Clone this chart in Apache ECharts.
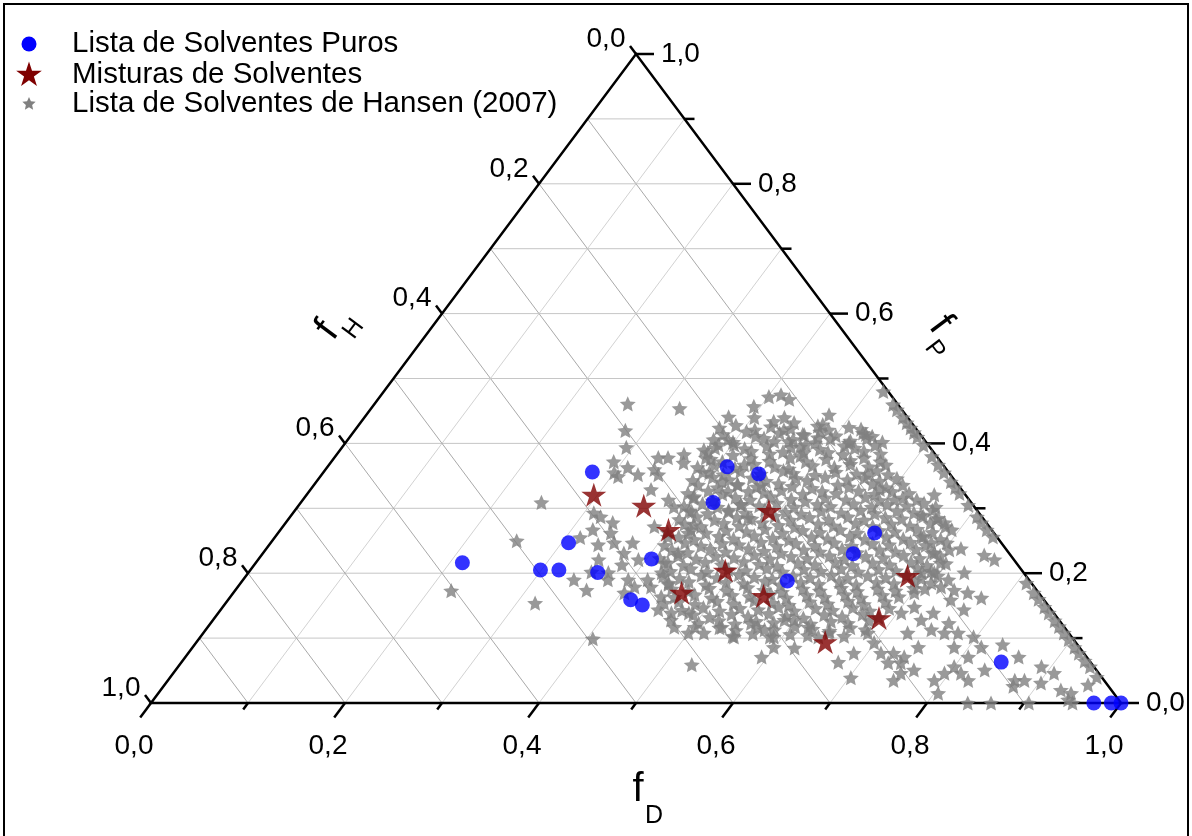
<!DOCTYPE html>
<html>
<head>
<meta charset="utf-8">
<script src="https://cdn.jsdelivr.net/npm/echarts@6/dist/echarts.min.js"></script>
<style>
  html, body { margin: 0; padding: 0; background: #fff; }
  #chart { width: 1192px; height: 836px; }
</style>
</head>
<body>
<div id="chart"></div>
<script>
// ternary points as [fD, fP]; fH = 1 - fD - fP
const puros = [
  [0.213, 0.216], [0.299, 0.205], [0.318, 0.205], [0.307, 0.247], [0.277, 0.356],
  [0.360, 0.201], [0.415, 0.159], [0.431, 0.151], [0.405, 0.222], [0.425, 0.309],
  [0.412, 0.364], [0.450, 0.353], [0.562, 0.188], [0.609, 0.230], [0.615, 0.262],
  [0.845, 0.063], [0.972, 0.0], [0.990, 0.0], [1.0, 0.0]
];

const misturas = [
  [0.296, 0.321], [0.356, 0.304], [0.400, 0.267], [0.489, 0.296], [0.490, 0.204],
  [0.462, 0.170], [0.549, 0.165], [0.682, 0.196], [0.685, 0.131], [0.648, 0.094]
];

const hansen = [
  // outer / scattered points
  [0.223, 0.173], [0.252, 0.250], [0.248, 0.309], [0.319, 0.154], [0.406, 0.099],
  [0.528, 0.059], [0.594, 0.071], [0.621, 0.085], [0.261, 0.461], [0.318, 0.454],
  [0.279, 0.420], [0.293, 0.394], [0.362, 0.174], [0.341, 0.190], [0.315, 0.255],
  [0.310, 0.293], [0.320, 0.287], [0.322, 0.267], [0.337, 0.278], [0.343, 0.262],
  [0.339, 0.244], [0.351, 0.221], [0.291, 0.372], [0.307, 0.349], [0.310, 0.363],
  [0.326, 0.352], [0.339, 0.360], [0.347, 0.352], [0.344, 0.378], [0.358, 0.383],
  [0.364, 0.370], [0.351, 0.329], [0.371, 0.201], [0.379, 0.213], [0.397, 0.190],
  [0.409, 0.179], [0.403, 0.170], [0.388, 0.302], [0.377, 0.313], [0.401, 0.318],
  [0.410, 0.295], [0.375, 0.390], [0.383, 0.378], [0.386, 0.398], [0.392, 0.406],
  [0.375, 0.441], [0.393, 0.457], [0.401, 0.472], [0.412, 0.475],
  [0.424, 0.468], [0.402, 0.440], [0.425, 0.434], [0.447, 0.432],
  [0.456, 0.403], [0.480, 0.386], [0.405, 0.256], [0.383, 0.272], [0.423, 0.262],
  [0.481, 0.117], [0.500, 0.108], [0.516, 0.108], [0.530, 0.117], [0.550, 0.102],
  [0.557, 0.123], [0.451, 0.144], [0.452, 0.154], [0.467, 0.139], [0.334, 0.378],
  [0.300, 0.355], [0.398, 0.355], [0.418, 0.341],
  [0.432, 0.326], [0.437, 0.336], [0.428, 0.367],
  [0.448, 0.295], [0.455, 0.306], [0.473, 0.285],
  [0.461, 0.336], [0.422, 0.275],
  [0.477, 0.444], [0.478, 0.429], [0.433, 0.440], [0.530, 0.414],
  [0.519, 0.401], [0.483, 0.409], [0.465, 0.414],
  [0.563, 0.352], [0.587, 0.329],
  [0.647, 0.321], [0.658, 0.302], [0.610, 0.313],
  [0.649, 0.290], [0.669, 0.285], [0.679, 0.278],
  [0.442, 0.421], [0.472, 0.395],
  [0.666, 0.256], [0.681, 0.247], [0.692, 0.231],
  [0.706, 0.216], [0.707, 0.201], [0.694, 0.201], [0.712, 0.185], [0.727, 0.190],
  [0.738, 0.201], [0.741, 0.174], [0.757, 0.170], [0.775, 0.162], [0.745, 0.228],
  [0.759, 0.221], [0.713, 0.148], [0.704, 0.139], [0.730, 0.128], [0.748, 0.113],
  [0.761, 0.123], [0.778, 0.108], [0.797, 0.102], [0.813, 0.086], [0.807, 0.071],
  [0.800, 0.056], [0.795, 0.046], [0.790, 0.035], [0.804, 0.015], [0.812, 0.046],
  [0.825, 0.035], [0.834, 0.051], [0.859, 0.071], [0.873, 0.035], [0.883, 0.035],
  [0.890, 0.056], [0.908, 0.046], [0.902, 0.031], [0.833, 0.090], [0.727, 0.077],
  [0.742, 0.062], [0.729, 0.062], [0.750, 0.046], [0.748, 0.035], [0.748, 0.086],
  [0.726, 0.108], [0.699, 0.093], [0.714, 0.077], [0.686, 0.077], [0.677, 0.063],
  [0.702, 0.039], [0.589, 0.128], [0.619, 0.117], [0.637, 0.102],
  [0.685, 0.108], [0.702, 0.170], [0.928, 0.020], [0.941, 0.015], [0.952, 0.028],
  [0.943, 0.005], [0.842, 0.0], [0.866, 0.0], [0.876, 0.026], [0.950, 0.0],
  [0.905, 0.0], [0.354, 0.247], [0.373, 0.247], [0.372, 0.231], [0.392, 0.221],
  [0.376, 0.190], [0.353, 0.202], [0.417, 0.190], [0.426, 0.201], [0.426, 0.179],
  [0.444, 0.164], [0.441, 0.185], [0.472, 0.128], [0.485, 0.139], [0.502, 0.117],
  [0.421, 0.216], [0.428, 0.231],
  [0.576, 0.113], [0.591, 0.102],
  [0.741, 0.071], [0.761, 0.051], [0.737, 0.139], [0.764, 0.108],
  [0.766, 0.144], [0.745, 0.159], [0.725, 0.179], [0.713, 0.196],
  [0.710, 0.176], [0.712, 0.215], [0.716, 0.238],
  [0.785, 0.086], [0.599, 0.086],
  // solvents lying on the fH = 0 side
  [0.515, 0.480], [0.535, 0.460], [0.543, 0.452], [0.555, 0.440], [0.563, 0.432],
  [0.571, 0.424], [0.578, 0.417], [0.585, 0.410], [0.598, 0.397], [0.615, 0.380],
  [0.628, 0.367], [0.640, 0.355], [0.654, 0.341], [0.663, 0.332], [0.672, 0.323],
  [0.690, 0.305], [0.708, 0.287], [0.717, 0.278], [0.728, 0.267], [0.740, 0.256],
  [0.810, 0.185], [0.825, 0.170], [0.835, 0.160], [0.847, 0.148], [0.856, 0.139],
  [0.868, 0.127], [0.877, 0.118], [0.887, 0.108], [0.897, 0.098], [0.909, 0.086],
  [0.918, 0.077], [0.930, 0.065], [0.940, 0.056], [0.955, 0.040],
  // dense core
  [0.374, 0.424], [0.389, 0.428], [0.412, 0.421], [0.426, 0.426], [0.448, 0.423], [0.474, 0.427], [0.488, 0.421], [0.507, 0.425], [0.521, 0.422],
  [0.383, 0.414], [0.405, 0.418], [0.418, 0.411], [0.440, 0.416], [0.467, 0.413], [0.481, 0.418], [0.500, 0.412], [0.526, 0.416], [0.538, 0.411],
  [0.377, 0.406], [0.399, 0.402], [0.428, 0.408], [0.441, 0.403], [0.459, 0.406], [0.484, 0.401], [0.497, 0.407], [0.519, 0.404], [0.534, 0.408], [0.553, 0.402],
  [0.385, 0.393], [0.402, 0.398], [0.416, 0.392], [0.437, 0.396], [0.463, 0.394], [0.476, 0.398], [0.494, 0.391], [0.517, 0.396], [0.529, 0.393], [0.548, 0.397],
  [0.381, 0.386], [0.409, 0.382], [0.425, 0.388], [0.446, 0.384], [0.458, 0.387], [0.479, 0.381], [0.505, 0.386], [0.522, 0.383], [0.541, 0.388], [0.560, 0.384],
  [0.389, 0.376], [0.403, 0.372], [0.430, 0.377], [0.451, 0.373], [0.470, 0.378], [0.489, 0.372], [0.508, 0.376], [0.534, 0.374], [0.546, 0.378], [0.566, 0.372],
  [0.382, 0.363], [0.397, 0.367], [0.421, 0.362], [0.438, 0.368], [0.461, 0.364], [0.477, 0.361], [0.499, 0.366], [0.523, 0.363], [0.537, 0.368], [0.558, 0.364], [0.574, 0.367],
  [0.391, 0.356], [0.414, 0.352], [0.429, 0.357], [0.452, 0.353], [0.473, 0.358], [0.485, 0.354], [0.509, 0.351], [0.528, 0.356], [0.551, 0.353], [0.569, 0.358], [0.584, 0.352],
  [0.387, 0.343], [0.405, 0.348], [0.424, 0.344], [0.446, 0.347], [0.463, 0.342], [0.492, 0.346], [0.505, 0.343], [0.521, 0.348], [0.546, 0.344], [0.562, 0.347], [0.580, 0.342], [0.596, 0.346],
  [0.396, 0.336], [0.418, 0.332], [0.436, 0.337], [0.458, 0.333], [0.478, 0.338], [0.494, 0.334], [0.516, 0.331], [0.540, 0.336], [0.553, 0.333], [0.575, 0.338], [0.592, 0.332], [0.607, 0.336],
  [0.392, 0.323], [0.411, 0.327], [0.428, 0.322], [0.453, 0.326], [0.470, 0.324], [0.486, 0.328], [0.511, 0.322], [0.529, 0.326], [0.545, 0.323], [0.566, 0.327], [0.585, 0.322], [0.601, 0.326], [0.620, 0.323],
  [0.401, 0.316], [0.423, 0.312], [0.444, 0.317], [0.461, 0.313], [0.480, 0.318], [0.503, 0.314], [0.519, 0.311], [0.537, 0.316], [0.560, 0.313], [0.578, 0.317], [0.595, 0.312], [0.617, 0.316], [0.633, 0.313],
  [0.398, 0.303], [0.415, 0.307], [0.433, 0.302], [0.455, 0.306], [0.475, 0.304], [0.491, 0.308], [0.512, 0.302], [0.534, 0.306], [0.549, 0.303], [0.571, 0.307], [0.592, 0.302], [0.606, 0.306], [0.627, 0.304], [0.643, 0.308],
  [0.407, 0.296], [0.428, 0.292], [0.447, 0.297], [0.466, 0.293], [0.484, 0.298], [0.507, 0.294], [0.525, 0.291], [0.543, 0.296], [0.565, 0.293], [0.583, 0.297], [0.600, 0.292], [0.621, 0.296], [0.640, 0.293], [0.657, 0.297],
  [0.403, 0.283], [0.419, 0.287], [0.440, 0.282], [0.461, 0.286], [0.477, 0.284], [0.499, 0.288], [0.518, 0.282], [0.536, 0.286], [0.557, 0.283], [0.575, 0.287], [0.594, 0.282], [0.614, 0.286], [0.632, 0.284], [0.652, 0.288], [0.668, 0.283],
  [0.412, 0.276], [0.431, 0.272], [0.452, 0.277], [0.470, 0.273], [0.491, 0.278], [0.510, 0.274], [0.528, 0.271], [0.550, 0.276], [0.567, 0.273], [0.588, 0.277], [0.608, 0.272], [0.625, 0.276], [0.646, 0.273], [0.665, 0.277], [0.683, 0.272],
  [0.401, 0.263], [0.423, 0.267], [0.441, 0.262], [0.460, 0.266], [0.482, 0.264], [0.499, 0.268], [0.520, 0.262], [0.539, 0.266], [0.558, 0.263], [0.577, 0.267], [0.597, 0.262], [0.618, 0.266], [0.635, 0.264], [0.656, 0.268], [0.674, 0.263], [0.692, 0.267],
  [0.416, 0.256], [0.434, 0.252], [0.457, 0.257], [0.474, 0.253], [0.493, 0.258], [0.514, 0.254], [0.532, 0.251], [0.553, 0.256], [0.571, 0.253], [0.592, 0.257], [0.610, 0.252], [0.630, 0.256], [0.649, 0.253], [0.668, 0.257], [0.688, 0.252],
  [0.408, 0.243], [0.427, 0.247], [0.446, 0.242], [0.466, 0.246], [0.484, 0.244], [0.505, 0.248], [0.524, 0.242], [0.542, 0.246], [0.563, 0.243], [0.581, 0.247], [0.601, 0.242], [0.621, 0.246], [0.639, 0.244], [0.659, 0.248], [0.677, 0.243], [0.697, 0.247],
  [0.419, 0.236], [0.437, 0.232], [0.458, 0.237], [0.476, 0.233], [0.497, 0.238], [0.515, 0.234], [0.534, 0.231], [0.555, 0.236], [0.573, 0.233], [0.594, 0.237], [0.612, 0.232], [0.633, 0.236], [0.651, 0.233], [0.670, 0.237], [0.689, 0.232], [0.705, 0.236],
  [0.413, 0.223], [0.430, 0.227], [0.451, 0.222], [0.469, 0.226], [0.489, 0.224], [0.508, 0.228], [0.527, 0.222], [0.547, 0.226], [0.565, 0.223], [0.586, 0.227], [0.604, 0.222], [0.624, 0.226], [0.643, 0.224], [0.662, 0.228], [0.681, 0.223], [0.700, 0.227],
  [0.425, 0.216], [0.443, 0.212], [0.463, 0.217], [0.482, 0.213], [0.502, 0.218], [0.520, 0.214], [0.540, 0.211], [0.559, 0.216], [0.578, 0.213], [0.597, 0.217], [0.617, 0.212], [0.636, 0.216], [0.655, 0.213], [0.675, 0.217], [0.694, 0.212],
  [0.434, 0.203], [0.453, 0.207], [0.472, 0.202], [0.492, 0.206], [0.511, 0.204], [0.531, 0.208], [0.550, 0.202], [0.570, 0.206], [0.589, 0.203], [0.608, 0.207], [0.628, 0.202], [0.647, 0.206], [0.666, 0.204], [0.686, 0.208], [0.703, 0.203],
  [0.430, 0.196], [0.449, 0.192], [0.469, 0.197], [0.487, 0.193], [0.507, 0.198], [0.525, 0.194], [0.545, 0.191], [0.564, 0.196], [0.583, 0.193], [0.603, 0.197], [0.622, 0.192], [0.641, 0.196], [0.661, 0.193], [0.680, 0.197], [0.698, 0.192],
  [0.442, 0.183], [0.461, 0.187], [0.481, 0.182], [0.500, 0.186], [0.519, 0.184], [0.539, 0.188], [0.558, 0.182], [0.577, 0.186], [0.597, 0.183], [0.616, 0.187], [0.636, 0.182], [0.655, 0.186], [0.674, 0.184], [0.693, 0.188],
  [0.449, 0.176], [0.468, 0.172], [0.487, 0.177], [0.507, 0.173], [0.526, 0.178], [0.545, 0.174], [0.565, 0.171], [0.584, 0.176], [0.603, 0.173], [0.623, 0.177], [0.642, 0.172], [0.661, 0.176], [0.681, 0.173], [0.698, 0.177],
  [0.458, 0.163], [0.477, 0.167], [0.497, 0.162], [0.516, 0.166], [0.535, 0.164], [0.555, 0.168], [0.574, 0.162], [0.593, 0.166], [0.613, 0.163], [0.632, 0.167], [0.651, 0.162], [0.671, 0.166], [0.689, 0.164],
  [0.466, 0.156], [0.485, 0.152], [0.505, 0.157], [0.524, 0.153], [0.543, 0.158], [0.563, 0.154], [0.582, 0.151], [0.601, 0.156], [0.621, 0.153], [0.640, 0.157], [0.659, 0.152], [0.679, 0.156],
  [0.476, 0.143], [0.496, 0.147], [0.515, 0.142], [0.534, 0.146], [0.554, 0.144], [0.573, 0.148], [0.592, 0.142], [0.612, 0.146], [0.631, 0.143], [0.650, 0.147], [0.670, 0.142], [0.688, 0.146],
  [0.491, 0.136], [0.510, 0.132], [0.530, 0.137], [0.549, 0.133], [0.568, 0.138], [0.588, 0.134], [0.607, 0.131], [0.626, 0.136], [0.646, 0.133], [0.665, 0.137], [0.684, 0.132],
  [0.503, 0.123], [0.522, 0.127], [0.541, 0.122], [0.561, 0.126], [0.580, 0.124], [0.599, 0.128], [0.619, 0.122], [0.638, 0.126], [0.657, 0.123], [0.677, 0.127],
  [0.528, 0.116], [0.547, 0.112], [0.567, 0.117], [0.586, 0.113], [0.605, 0.118], [0.625, 0.114], [0.644, 0.111], [0.663, 0.116], [0.680, 0.113],
  [0.548, 0.103], [0.567, 0.107], [0.587, 0.102], [0.606, 0.106], [0.625, 0.104], [0.645, 0.108], [0.663, 0.103]
];

const seriesNames = ['Lista de Solventes Puros', 'Misturas de Solventes', 'Lista de Solventes de Hansen (2007)'];
const gridLevels = [0.1, 0.2, 0.3, 0.4, 0.5, 0.6, 0.7, 0.8, 0.9];
const majorTicks = [0, 0.2, 0.4, 0.6, 0.8, 1.0];
const minorTicks = [0.1, 0.3, 0.5, 0.7, 0.9];
const tickLabels = ['0,0', '0,2', '0,4', '0,6', '0,8', '1,0'];

const FONT = '"Liberation Sans", Arial, sans-serif';
const STAR = 'path://M50 0L61.23 34.55L97.55 34.55L68.16 55.9L79.39 90.45L50 69.1L20.61 90.45L31.84 55.9L2.45 34.55L38.77 34.55Z';
const STAR_FAT = 'path://M50 0L63.81 30.99L97.55 34.55L72.35 57.26L79.39 90.45L50 73.5L20.61 90.45L27.65 57.26L2.45 34.55L36.19 30.99Z';

// ternary -> cartesian (x along fD axis, y = fP)
function toXY(p) {
  return [p[0] + p[1] / 2, p[1]];
}

function starPoints(cx, cy, r, inner) {
  const pts = [];
  for (let i = 0; i < 10; i++) {
    const rr = i % 2 ? r * inner : r;
    const a = -Math.PI / 2 + i * Math.PI / 5;
    pts.push([cx + rr * Math.cos(a), cy + rr * Math.sin(a)]);
  }
  return pts;
}

function renderFrame(params, api) {
  const P = (d, p) => api.coord([d + p / 2, p]);
  const kids = [];
  const seg = (a, b, color, w) => kids.push({
    type: 'line',
    shape: { x1: a[0], y1: a[1], x2: b[0], y2: b[1] },
    style: { stroke: color, lineWidth: w }
  });
  const txt = (x, y, s, align) => kids.push({
    type: 'text', x: x, y: y,
    style: { text: s, fill: '#000', font: '28px ' + FONT, align: align, verticalAlign: 'middle' }
  });
  const unit = (a, b) => {
    const dx = b[0] - a[0], dy = b[1] - a[1], l = Math.hypot(dx, dy);
    return [dx / l, dy / l];
  };
  const tick = (p, dir, len) => seg(p, [p[0] + dir[0] * len, p[1] + dir[1] * len], '#000', 2.5);

  // grid lines
  gridLevels.forEach(k => {
    seg(P(0, k), P(1 - k, k), '#c6c6c6', 1);     // fP const
    seg(P(k, 0), P(k, 1 - k), '#d2d2d2', 1);     // fD const
    seg(P(1 - k, 0), P(0, 1 - k), '#a9a9a9', 1); // fH const
  });

  const A = P(0, 0), B = P(1, 0), C = P(0, 1);
  kids.push({
    type: 'polygon',
    shape: { points: [A, B, C] },
    style: { fill: 'none', stroke: '#000', lineWidth: 2.5 }
  });

  const downLeft = unit(C, A);
  const upLeft = unit(B, C);

  majorTicks.forEach((k, i) => {
    const b = P(k, 0);
    tick(b, downLeft, 18);
    txt(b[0] - 17, b[1] + 43, tickLabels[i], 'center');
    const r = P(1 - k, k);
    tick(r, [1, 0], 18);
    txt(r[0] + 25, r[1], tickLabels[i], 'left');
    const l = P(0, 1 - k);
    tick(l, upLeft, 10);
    txt(l[0] - 30, l[1] - 15, tickLabels[i], 'center');
  });
  minorTicks.forEach(k => {
    tick(P(k, 0), downLeft, 8);
    tick(P(1 - k, k), [1, 0], 10);
  });

  // axis titles
  const title = (x, y, rot, sub, sx, sy) => kids.push({
    type: 'group', x: x, y: y, rotation: rot,
    children: [
      { type: 'text', x: 0, y: 0, style: { text: 'f', fill: '#000', font: '40px ' + FONT, align: 'center', verticalAlign: 'middle' } },
      { type: 'text', x: sx, y: sy, style: { text: sub, fill: '#000', font: '25px ' + FONT, align: 'center', verticalAlign: 'middle' } }
    ]
  });
  const ang = Math.atan2(A[1] - C[1], C[0] - A[0]);
  const mD = P(0.5, 0), mH = P(0, 0.5), mP = P(0.5, 0.5);
  title(mD[0] + 2, mD[1] + 87, 0, 'D', 16, 26);
  title(mH[0] - 66, mH[1] - 48, ang, 'H', 17, 20);
  title(mP[0] + 62, mP[1] - 54, -ang, 'P', 17, 20);

  return { type: 'group', children: kids };
}

const chart = echarts.init(document.getElementById('chart'), null, { renderer: 'canvas' });

const legendText = (y, s) => ({
  type: 'text', x: 72, y: y,
  style: { text: s, fill: '#000', font: '29.5px ' + FONT, align: 'left', verticalAlign: 'middle' }
});

chart.setOption({
  animation: false,
  backgroundColor: '#fff',
  grid: { left: 151, top: 54, width: 970, height: 649 },
  xAxis: { type: 'value', min: 0, max: 1, show: false },
  yAxis: { type: 'value', min: 0, max: 1, show: false },
  graphic: [
    { type: 'rect', shape: { x: 4, y: 4, width: 1184, height: 840 }, style: { fill: 'none', stroke: '#000', lineWidth: 2 } },
    { type: 'circle', shape: { cx: 29, cy: 44, r: 7.5 }, style: { fill: '#0000ff' } },
    { type: 'polygon', shape: { points: starPoints(29, 75, 13.5, 0.382) }, style: { fill: '#7f0000' } },
    { type: 'polygon', shape: { points: starPoints(29, 104, 7, 0.47) }, style: { fill: '#808080' } },
    legendText(44, seriesNames[0]),
    legendText(75, seriesNames[1]),
    legendText(104, seriesNames[2])
  ],
  series: [
    {
      type: 'custom',
      coordinateSystem: 'cartesian2d',
      data: [[0, 0]],
      renderItem: renderFrame,
      silent: true,
      clip: false,
      z: 1
    },
    {
      type: 'scatter',
      name: seriesNames[2],
      data: hansen.map(toXY),
      symbol: STAR_FAT,
      symbolSize: [16, 15.2],
      itemStyle: { color: '#808080' },
      clip: false,
      z: 3
    },
    {
      type: 'scatter',
      name: seriesNames[0],
      data: puros.map(toXY),
      symbol: 'circle',
      symbolSize: 15,
      itemStyle: { color: '#0000ff' },
      clip: false,
      z: 4
    },
    {
      type: 'scatter',
      name: seriesNames[1],
      data: misturas.map(toXY),
      symbol: STAR,
      symbolSize: [25, 24],
      itemStyle: { color: '#7f0000' },
      clip: false,
      z: 5
    }
  ]
});
</script>
</body>
</html>
